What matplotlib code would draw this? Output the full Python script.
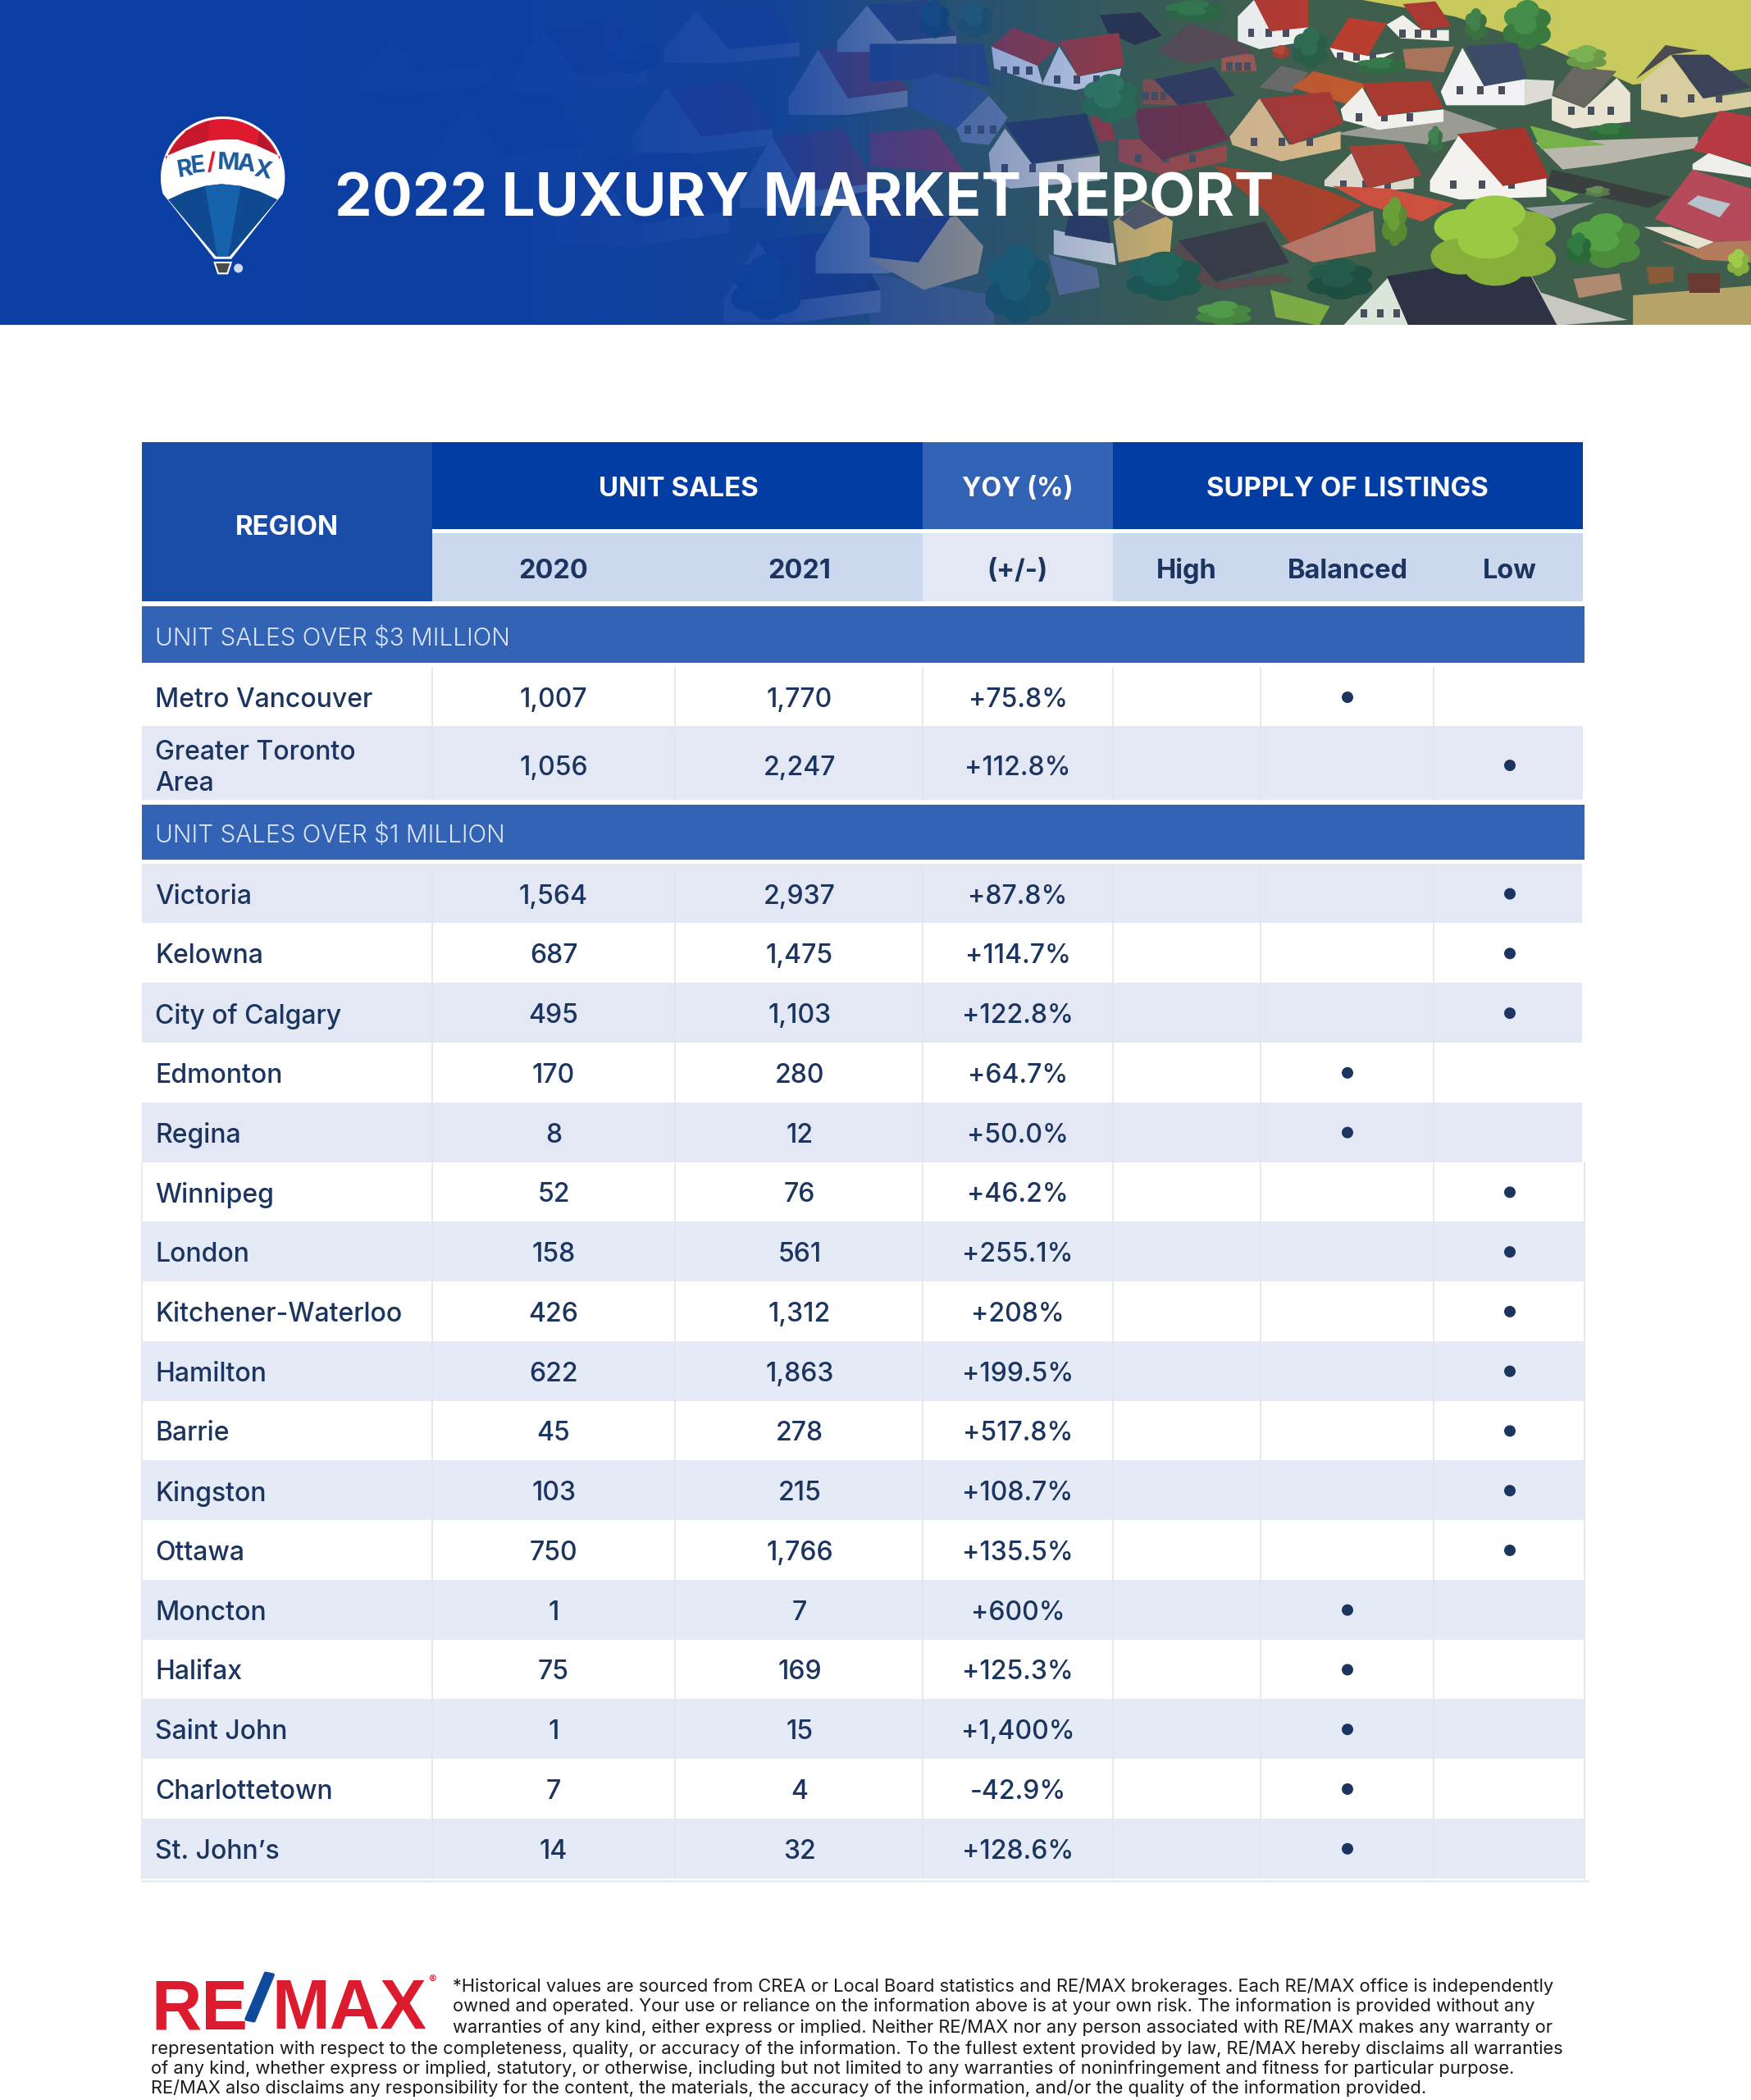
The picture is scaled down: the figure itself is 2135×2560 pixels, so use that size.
import numpy as np
import matplotlib
matplotlib.use("Agg")
import matplotlib.pyplot as plt
import matplotlib.patheffects as pe
from matplotlib.patches import Rectangle, Polygon, Circle, Ellipse

plt.rcParams['font.family'] = ['Inter', 'DejaVu Sans']

# table values
regions_top = ["Metro Vancouver", "Greater Toronto\nArea"]
sales_2020_top = [1007, 1056]
sales_2021_top = [1770, 2247]
yoy_top = ["+75.8%", "+112.8%"]
supply_top = ["Balanced", "Low"]

regions = ["Victoria", "Kelowna", "City of Calgary", "Edmonton", "Regina", "Winnipeg",
           "London", "Kitchener-Waterloo", "Hamilton", "Barrie", "Kingston", "Ottawa",
           "Moncton", "Halifax", "Saint John", "Charlottetown", "St. John\u2019s"]
sales_2020 = [1564, 687, 495, 170, 8, 52, 158, 426, 622, 45, 103, 750, 1, 75, 1, 7, 14]
sales_2021 = [2937, 1475, 1103, 280, 12, 76, 561, 1312, 1863, 278, 215, 1766, 7, 169, 15, 4, 32]
yoy = ["+87.8%", "+114.7%", "+122.8%", "+64.7%", "+50.0%", "+46.2%", "+255.1%", "+208%",
       "+199.5%", "+517.8%", "+108.7%", "+135.5%", "+600%", "+125.3%", "+1,400%", "-42.9%",
       "+128.6%"]
supply = ["Low", "Low", "Low", "Balanced", "Balanced", "Low", "Low", "Low", "Low", "Low",
          "Low", "Low", "Balanced", "Balanced", "Balanced", "Balanced", "Balanced"]

section_titles = ["UNIT SALES OVER $3 MILLION", "UNIT SALES OVER $1 MILLION"]
footer_lines = [
    "*Historical values are sourced from CREA or Local Board statistics and RE/MAX brokerages. Each RE/MAX office is independently",
    "owned and operated. Your use or reliance on the information above is at your own risk. The information is provided without any",
    "warranties of any kind, either express or implied. Neither RE/MAX nor any person associated with RE/MAX makes any warranty or",
    "representation with respect to the completeness, quality, or accuracy of the information. To the fullest extent provided by law, RE/MAX hereby disclaims all warranties",
    "of any kind, whether express or implied, statutory, or otherwise, including but not limited to any warranties of noninfringement and fitness for particular purpose.",
    "RE/MAX also disclaims any responsibility for the content, the materials, the accuracy of the information, and/or the quality of the information provided.",
]

W, H = 2135, 2560
NAVY = "#1c3560"
DARK = "#013da3"
MID = "#3363b5"
REGION = "#1a4da8"
SUB = "#ccd8ed"
PALE = "#e3e8f4"
PALE2 = "#e4ebf6"
LINE = "#e3e5ea"

fig = plt.figure(figsize=(W / 100, H / 100), dpi=100)
ax = fig.add_axes([0, 0, 1, 1])


def px(size):
    # font size given in pixels
    return size * 0.72


def zx(v):
    return 1100 + v / 1.515


def zy(v):
    return v / 3


def poly(points, color, z=2):
    ax.add_patch(Polygon([(zx(a), zy(b)) for a, b in points], closed=True, fc=color, ec="none", zorder=z))


def windows(points, n=3):
    # a small row of dark windows around the middle of a wall
    cx = sum(p[0] for p in points) / len(points)
    cy = sum(p[1] for p in points) / len(points)
    span = max(p[0] for p in points) - min(p[0] for p in points)
    for k in range(n):
        wx = cx + (k - (n - 1) / 2) * span * 0.25
        poly([(wx - 6, cy), (wx + 6, cy), (wx + 6, cy + 30), (wx - 6, cy + 30)], "#4a4f5c")


def shape(roof, roof_color, wall=None, wall_color=None):
    if wall:
        poly(wall, wall_color)
        windows(wall)
    poly(roof, roof_color)


def tree(x, y, rx, ry, color):
    base = matplotlib.colors.to_rgb(color)
    light = tuple(min(1, c * 1.15) for c in base)
    ax.add_patch(Ellipse((zx(x), zy(y)), 1.5 * rx / 1.515, 1.7 * ry / 3, fc=color, ec="none", zorder=3))
    for ox, oy, c in [(-0.45, -0.3, light), (0.45, -0.25, color), (-0.5, 0.35, color), (0.45, 0.4, color),
                      (0, -0.6, light), (0, 0.6, color), (-0.1, 0, light)]:
        ax.add_patch(Ellipse((zx(x + ox * rx), zy(y + oy * ry)), 0.9 * rx / 1.515, 0.8 * ry / 3, fc=c, ec="none", zorder=3))


def simple_house(x0, w, yb, eave, apex, dx, dy, roof, wall):
    side = x0 + w
    poly([(side, yb), (side + dx, yb + dy), (side + dx, yb + dy - eave), (side, yb - eave)], wall)
    poly([(x0, yb), (x0 + w, yb), (x0 + w, yb - eave), (x0 + w / 2, yb - apex), (x0, yb - eave)], wall)
    a = (x0 + w / 2, yb - apex)
    poly([a, (a[0] + dx, a[1] + dy), (side + dx, yb + dy - eave), (side, yb - eave)], roof)


# banner ground
ax.add_patch(Rectangle((0, 0), W, 396, fc="#3f5f4c", ec="none", zorder=1))
poly([(850, 0), (1600, 0), (1600, 240), (1350, 310), (1190, 170), (1020, 60)], "#c9ca5e")
poly([(1170, 520), (1470, 500), (1470, 540), (1300, 600), (1220, 620)], "#b9b7ab")
poly([(1200, 620), (1420, 720), (1380, 760), (1190, 680)], "#3a3f3f")
poly([(1000, 400), (1100, 470), (980, 530), (800, 490)], "#9a9c94")
poly([(1160, 460), (1300, 530), (1180, 545)], "#76b24a")
poly([(1190, 680), (1250, 710), (1220, 740)], "#76b24a")
poly([(1350, 1080), (1600, 1040), (1600, 1190), (1350, 1190)], "#b6a468")
poly([(680, 1060), (790, 1120), (770, 1190), (690, 1160)], "#7fae44")
poly([(-60, 1000), (170, 1080), (170, 1190), (-60, 1190)], "#5a6a78")
poly([(1150, 760), (1280, 740), (1200, 800)], "#9aa0a0")

# fade side houses, mostly hidden under the blue
left_houses = [
    (-1000, 110, 340, 70, 200, 130, -30, "#4a4a6a", "#888888"),
    (-870, 130, 640, 70, 260, 150, -40, "#3c3c5c", "#777777"),
    (-720, 120, 340, 60, 230, 130, -30, "#6a3a44", "#8a8a8a"),
    (-640, 150, 900, 80, 300, 170, -50, "#3a3a5a", "#80848a"),
    (-500, 130, 560, 60, 240, 130, -30, "#7a3a40", "#9a9a9a"),
    (-440, 120, 230, 50, 190, 130, -25, "#444a66", "#9a9a9a"),
    (-330, 130, 1180, 80, 300, 160, -40, "#2e3a5a", "#8f8f9a"),
    (-300, 120, 760, 60, 260, 130, -30, "#8a3a3e", "#a9a9a9"),
    (-210, 110, 420, 60, 240, 110, -30, "#8a3a3e", "#a5a5a5"),
    (-160, 130, 1000, 70, 290, 130, -40, "#344265", "#b0b0b0"),
    (-120, 110, 190, 40, 170, 110, -20, "#3a4664", "#b0b0b0"),
]
for h in left_houses:
    simple_house(*h)

# main houses, back to front
poly([(-60, 160), (150, 160), (165, 320), (100, 280), (-60, 300)], "#334a78")
shape([(365, 55), (440, 45), (480, 130), (430, 165), (380, 120)], "#2e3344")
shape([(470, 190), (530, 85), (600, 130), (650, 190), (530, 235)], "#5a4c52",
      [(590, 190), (650, 200), (655, 260), (590, 260)], "#a05a50")
shape([(165, 170), (205, 100), (290, 165), (250, 240)], "#aa3a34",
      [(165, 170), (250, 240), (260, 310), (170, 250)], "#e6e9ef")
shape([(290, 150), (400, 120), (410, 240), (325, 280)], "#aa3a34",
      [(260, 300), (290, 170), (325, 280), (405, 250), (400, 290), (320, 330), (260, 310)], "#dfe4ec")
shape([(650, 0), (750, 0), (750, 100), (680, 115)], "#b53a30",
      [(620, 60), (650, 0), (690, 90), (750, 100), (750, 150), (660, 180), (620, 150)], "#f4f4f0")
shape([(825, 65), (895, 85), (860, 205), (790, 175)], "#b83e30",
      [(790, 175), (815, 130), (860, 205), (910, 190), (860, 240), (800, 210)], "#f2f2ee")
shape([(925, 15), (985, 5), (1015, 95), (960, 110)], "#a83832",
      [(895, 90), (925, 55), (960, 110), (1010, 110), (1010, 150), (920, 140)], "#f0f0ea")
poly([(925, 180), (1020, 170), (1000, 265), (930, 250)], "#a8745c")
shape([(1040, 170), (1135, 155), (1155, 285), (1075, 315)], "#3d4a68",
      [(995, 335), (1035, 175), (1075, 315), (1150, 290), (1150, 385), (1005, 385)], "#f2f2f4")
poly([(1150, 290), (1205, 295), (1200, 360), (1150, 385)], "#dcdcd4")
poly([(1355, 290), (1410, 165), (1470, 185), (1420, 200)], "#4a4a50")
shape([(1240, 245), (1320, 260), (1260, 395), (1200, 345)], "#6a6660",
      [(1260, 395), (1320, 285), (1345, 340), (1345, 445), (1240, 470), (1200, 440), (1200, 350)], "#e9e4d2")
shape([(1420, 200), (1490, 200), (1568, 320), (1480, 360)], "#3c4258",
      [(1365, 300), (1420, 205), (1480, 360), (1568, 335), (1568, 390), (1440, 430), (1365, 400)], "#d8cda0")
poly([(660, 320), (700, 240), (750, 265), (720, 340)], "#6c6c68")
poly([(720, 320), (760, 260), (860, 310), (820, 380)], "#c05a30")
shape([(465, 290), (575, 245), (615, 350), (510, 385)], "#343c5c",
      [(445, 290), (465, 290), (510, 385), (445, 380)], "#8a5048")
shape([(850, 305), (975, 295), (1000, 395), (880, 425)], "#a83a30",
      [(810, 400), (850, 320), (880, 425), (1000, 400), (1000, 445), (880, 475), (815, 440)], "#f0f0ec")
shape([(660, 360), (790, 335), (815, 450), (720, 530)], "#a63a36",
      [(605, 500), (660, 360), (715, 530), (810, 480), (810, 545), (700, 590), (610, 530)], "#d6b98c")
shape([(430, 400), (560, 375), (605, 510), (480, 585), (440, 510)], "#6e3348",
      [(400, 510), (440, 510), (480, 585), (600, 530), (600, 590), (480, 640), (400, 590)], "#9c4a48")
shape([(190, 450), (340, 415), (365, 560), (240, 600)], "#2f3a58",
      [(160, 560), (190, 470), (240, 600), (365, 570), (365, 660), (200, 690), (165, 660)], "#dcd8d4")
poly([(345, 420), (380, 415), (395, 510), (365, 520)], "#a03a38")
shape([(20, 300), (60, 265), (160, 340), (100, 470), (10, 390)], "#3f5b8a",
      [(100, 470), (160, 350), (195, 430), (160, 530), (110, 520)], "#7f8ca8")
poly([(-60, 485), (60, 470), (115, 630), (-60, 610)], "#a03a4a")
poly([(1510, 405), (1568, 425), (1568, 600), (1460, 550)], "#b83a44")
poly([(1460, 600), (1490, 560), (1568, 610), (1568, 650), (1460, 620)], "#eeeeea")
shape([(825, 535), (925, 525), (960, 640), (860, 690)], "#a84038",
      [(780, 660), (830, 560), (860, 690), (945, 650), (945, 690), (850, 700), (780, 680)], "#dcd8cc")
shape([(1025, 490), (1150, 465), (1195, 650), (1110, 680)], "#a8342e",
      [(975, 660), (1030, 490), (1110, 680), (1190, 650), (1190, 720), (1030, 730), (975, 700)], "#f4f2ee")
poly([(795, 680), (900, 690), (1020, 745), (960, 810), (860, 750)], "#cc5040")
poly([(1460, 620), (1568, 690), (1568, 880), (1500, 885), (1390, 800)], "#b54a5a")
poly([(1370, 830), (1420, 830), (1500, 885), (1470, 910)], "#e8e2d0")
poly([(1400, 880), (1470, 910), (1500, 885), (1568, 880), (1568, 960), (1480, 950)], "#b47a5c")
poly([(1450, 745), (1470, 715), (1530, 745), (1510, 795)], "#b8c4cc")
poly([(390, 810), (445, 730), (500, 810), (495, 920), (400, 960)], "#d8b868")
poly([(280, 840), (390, 890), (395, 970), (280, 930)], "#e0e0dc")
poly([(310, 770), (380, 800), (385, 890), (300, 860)], "#333a55")
poly([(400, 800), (440, 735), (490, 790), (430, 840)], "#5a5a60")
poly([(270, 930), (360, 980), (365, 1050), (290, 1080)], "#6a7590")
poly([(575, 605), (700, 640), (790, 700), (850, 750), (720, 900), (670, 770)], "#a8422c")
poly([(700, 900), (870, 770), (875, 920), (760, 960)], "#b87868")
shape([(510, 880), (670, 810), (715, 960), (580, 1030)], "#3a3c44",
      [(490, 940), (515, 880), (580, 1030), (700, 1000), (720, 1030), (590, 1060), (500, 1000)], "#5c4a48")
poly([(-60, 860), (100, 790), (150, 900), (140, 1000), (40, 1060), (-60, 950)], "#d6ba80")
poly([(-60, 810), (90, 790), (30, 960), (-60, 940)], "#2a3c70")
poly([(1240, 1020), (1325, 1000), (1330, 1060), (1250, 1090)], "#b08a70")
poly([(1375, 975), (1425, 975), (1425, 1030), (1380, 1040)], "#8a5a38")
poly([(1450, 1000), (1510, 1000), (1510, 1070), (1455, 1070)], "#6a3a30")
shape([(895, 1010), (1140, 930), (1210, 1190), (935, 1190)], "#2e3245",
      [(815, 1190), (900, 1010), (935, 1190)], "#dbe6da")
poly([(1140, 930), (1180, 1070), (1340, 1170), (1210, 1190)], "#c8c8c0")

trees = [
    (1095, 880, 125, 165, "#86b03a"), (1300, 880, 70, 100, "#4a8c3c"), (910, 810, 25, 90, "#5a8a30"),
    (215, 1040, 65, 145, "#1e5a50"), (485, 1010, 75, 90, "#1f5a48"), (1155, 90, 48, 90, "#3a7a40"),
    (1060, 90, 22, 60, "#3a7040"), (755, 175, 35, 75, "#2a5f48"), (385, 360, 55, 90, "#2f7048"),
    (810, 1020, 65, 75, "#1f4f40"), (595, 1145, 55, 45, "#4a8a3c"), (1265, 210, 40, 45, "#6a9a48"),
    (135, 70, 35, 70, "#2a5a50"), (60, 70, 30, 70, "#1c4a5a"), (540, 40, 60, 40, "#2f6a40"),
    (885, 240, 50, 30, "#2f6a40"), (1250, 910, 25, 60, "#2a6a3a"), (1545, 960, 22, 50, "#8ab040"),
    (1310, 480, 45, 30, "#2f6a3a"), (985, 510, 15, 50, "#3a7048"), (700, 190, 18, 25, "#a04030"),
    (-250, 1050, 70, 120, "#1c4a55"), (-500, 200, 60, 70, "#1d4a66"), (1285, 700, 25, 20, "#5a7a4a"),
]
for t in trees:
    tree(*t)

# blue fade over the photo
alpha = np.interp(np.arange(W), [0, 700, 950, 1100, 1440, 1650], [1.0, 0.97, 0.85, 0.55, 0.08, 0.0])
fade = np.zeros((1, W, 4))
fade[0, :, :3] = matplotlib.colors.to_rgb("#0c3fa5")
fade[0, :, 3] = alpha
ax.imshow(fade, extent=[0, W, 396, 0], aspect="auto", zorder=5)
ax.add_patch(Rectangle((0, 396), W, H - 396, fc="white", ec="none", zorder=6))

ax.text(408, 237, "2022 LUXURY MARKET REPORT", color="white", fontsize=px(72.7), fontweight="bold",
        va="center_baseline", ha="left", zorder=20)


# balloon logo
def bx(v):
    return 170 + v / 3


def by(v):
    return 120 + v / 3


ang = np.radians(np.linspace(195, -15, 60))
out_x = 305 + 225 * np.cos(ang)
out_y = 290 - 222 * np.sin(ang)
outline = list(zip(bx(out_x), by(out_y))) + [(bx(335), by(585)), (bx(275), by(585))]
ax.add_patch(Polygon(outline, fc="white", ec="white", lw=1, zorder=10))
ang2 = np.radians(np.linspace(162, 18, 40))
top_x = 305 + 218 * np.cos(ang2)
top_y = 290 - 215 * np.sin(ang2)
scallop = [(515, 212), (430, 172), (360, 150), (300, 150), (250, 155), (170, 180), (95, 212)]
ax.add_patch(Polygon(list(zip(bx(top_x), by(top_y))) + [(bx(a), by(b)) for a, b in scallop],
                     fc="#e01a2e", ec="none", zorder=11))
ax.add_patch(Polygon([(bx(a), by(b)) for a, b in [(440, 118), (505, 205), (430, 172)]], fc="#b5182c", zorder=11))
ax.add_patch(Polygon([(bx(a), by(b)) for a, b in [(170, 118), (105, 205), (170, 180), (250, 155), (255, 82)]],
                     fc="#c5182c", zorder=11))
blue_pts = [(105, 370), (170, 340), (240, 320), (300, 313), (370, 320), (440, 340), (505, 370), (330, 578), (280, 578)]
ax.add_patch(Polygon([(bx(a), by(b)) for a, b in blue_pts], fc="#0f4a90", zorder=11))
ax.add_patch(Polygon([(bx(a), by(b)) for a, b in [(240, 320), (300, 313), (370, 320), (325, 578), (285, 578)]],
                     fc="#1662ad", zorder=12))
ax.add_patch(Polygon([(bx(a), by(b)) for a, b in [(275, 600), (335, 600), (322, 640), (288, 640)]],
                     fc="#4a4a4a", ec="white", lw=1.5, zorder=12))
ax.add_patch(Circle((bx(362), by(621)), 5.5, fc="#cdd9ec", ec="none", zorder=12))
balloon_letters = ["R", "E", "/", "M", "A", "X"]
balloon_x = [165, 213, 262, 325, 390, 450]
balloon_y = [262, 248, 238, 238, 243, 265]
balloon_rot = [10, 7, 3, -2, -6, -11]
for ch, a, b, r in zip(balloon_letters, balloon_x, balloon_y, balloon_rot):
    ax.text(bx(a), by(b), ch, color="#e01a2e" if ch == "/" else "#1d5a9b", fontsize=px(29), fontweight="bold",
            rotation=r, ha="center", va="center", zorder=13)

# table header
x_cols = [173, 527, 823, 1125, 1357, 1537, 1748, 1930]
x_right = 1932
x_2020, x_2021, x_yoy = 675, 975, 1241
x_high, x_bal, x_low = 1447, 1643, 1841
supply_x = {"High": x_high, "Balanced": x_bal, "Low": x_low}


def cell(x0, y0, x1, y1, color, z=7):
    ax.add_patch(Rectangle((x0, y0), x1 - x0, y1 - y0, fc=color, ec="none", zorder=z))


def label(x, y, s, size=32, weight=500, color=NAVY, ha="center"):
    ax.text(x, y, s, color=color, fontsize=px(size), fontweight=weight, ha=ha, va="center_baseline",
            linespacing=1.28, zorder=9)


cell(173, 539, 527, 733, REGION)
cell(527, 539, 1125, 645, DARK)
cell(1125, 539, 1357, 645, MID)
cell(1357, 539, 1930, 645, DARK)
cell(527, 650, 1125, 733, SUB)
cell(1125, 650, 1357, 733, PALE)
cell(1357, 650, 1930, 733, SUB)

label(350, 640, "REGION", size=33, weight=700, color="white")
label(827, 593, "UNIT SALES", size=33, weight=700, color="white")
label(x_yoy, 593, "YOY (%)", size=32, weight=700, color="white")
label(x_bal, 593, "SUPPLY OF LISTINGS", size=33, weight=700, color="white")
label(x_2020, 693, "2020", size=32.5, weight=700)
label(x_2021, 693, "2021", size=32.5, weight=700)
label(x_yoy, 693, "(+/-)", size=32.5, weight=700)
label(x_high, 693, "High", size=32.5, weight=700)
label(x_bal, 693, "Balanced", size=32.5, weight=700)
label(x_low, 693, "Low", size=32.5, weight=700)

# section bands
cell(173, 739, x_right, 808, MID)
cell(173, 981, x_right, 1048, MID)
label(189, 776, section_titles[0], size=29.7, weight=300, color="#dde6f6", ha="left")
label(189, 1016, section_titles[1], size=29.7, weight=300, color="#dde6f6", ha="left")


def draw_row(y0, y1, yc, name, v0, v1, pct, level, fill, x1):
    if fill:
        cell(173, y0, x1, y1, fill)
    # the two line name in the first section sits a little higher
    label(189, yc - 3 if "\n" in name else yc, name, ha="left")
    label(x_2020, yc, f"{v0:,}")
    label(x_2021, yc, f"{v1:,}")
    label(x_yoy, yc, pct)
    ax.add_patch(Circle((supply_x[level], yc), 7, fc=NAVY, ec="none", zorder=9))


tops = [(808, 885, 850), (885, 975, 933)]
for i, (y0, y1, yc) in enumerate(tops):
    draw_row(y0, y1, yc, regions_top[i], sales_2020_top[i], sales_2021_top[i], yoy_top[i], supply_top[i],
             PALE if i % 2 else None, 1930)

row_top = 1052.7
row_h = 72.76
for i in range(len(regions)):
    y0 = row_top + i * row_h
    fill = None
    if i % 2 == 0:
        fill = PALE if i < 5 else PALE2
    draw_row(y0, y0 + row_h, y0 + row_h / 2 + 0.5, regions[i], sales_2020[i], sales_2021[i], yoy[i], supply[i], fill,
             1929 if i < 5 else x_right)

# grid lines in the data rows
for x in x_cols[1:7]:
    ax.plot([x, x], [814, 975], color=LINE, lw=1.2, zorder=8)
    ax.plot([x, x], [1054, 2290], color=LINE, lw=1.2, zorder=8)
bottom = row_top + len(regions) * row_h
for x in (173, x_right):
    ax.plot([x, x], [row_top + 5 * row_h, bottom], color=LINE, lw=1.2, zorder=8)
ax.plot([173, 1936], [bottom + 3, bottom + 3], color="#e8ecf3", lw=2, zorder=8)

# footer
ax.text(184, 2473, "RE", color="#dc1c2e", fontsize=px(85), fontweight="bold", family="Liberation Sans",
        ha="left", va="baseline", zorder=9)
ax.text(315, 2442, "/", color="#0f4a9c", fontsize=px(80), fontweight="bold", family="Liberation Sans", rotation=-12,
        ha="center", va="center", zorder=9, path_effects=[pe.withStroke(linewidth=3, foreground="#0f4a9c")])
ax.text(520, 2473, "MAX", color="#dc1c2e", fontsize=px(85), fontweight="bold", family="Liberation Sans",
        ha="right", va="baseline", zorder=9)
ax.text(527, 2415, "\u00ae", color="#dc1c2e", fontsize=px(14), ha="center", va="center", zorder=9)

footer_y = [2419, 2444, 2469, 2495, 2520, 2544]
footer_x = [552, 552, 552, 184, 184, 184]
for s, x, y in zip(footer_lines, footer_x, footer_y):
    ax.text(x, y, s, color="#1a1a1a", fontsize=px(21.9), fontweight=400, ha="left", va="center_baseline", zorder=9)

ax.set_xlim(0, W)
ax.set_ylim(H, 0)
ax.axis("off")
fig.savefig("out.png", dpi=100, facecolor="white")
